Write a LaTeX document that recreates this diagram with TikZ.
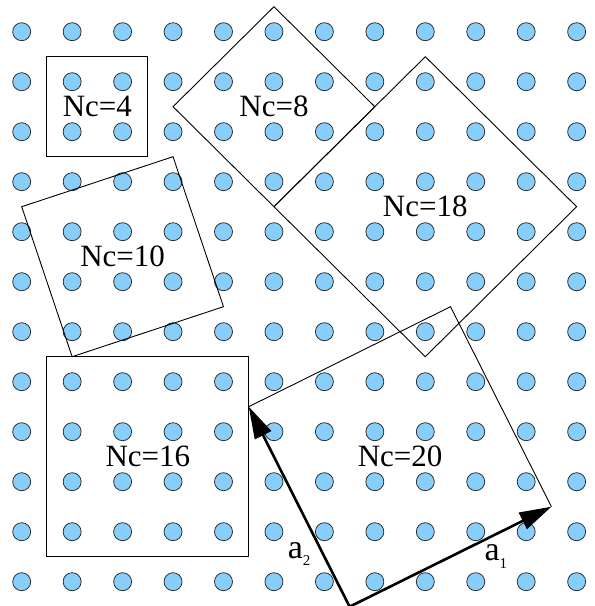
\documentclass[tikz,border=0pt]{standalone}
\usepackage{fontspec}
\setmainfont{Liberation Serif}
\usetikzlibrary{arrows.meta}
\definecolor{sitefill}{RGB}{135,206,250}
\newcommand{\subidx}[1]{\raisebox{-0.22em}{\fontsize{15}{15}\selectfont #1}}

\begin{document}
\begin{tikzpicture}[x=50.45pt, y=-50pt,
  every node/.style={font=\fontsize{31}{31}\selectfont},
  site/.style={circle,draw=black!85,fill=sitefill,line width=0.75pt,minimum size=18pt,inner sep=0pt},
  cell/.style={draw,line width=0.9pt},
  vlabel/.style={font=\fontsize{34}{34}\selectfont},
  basis/.style={line width=2.6pt,-{Triangle[length=32pt,width=18pt]}}]
  \useasboundingbox (-0.430,-0.634) rectangle (11.364,11.486);
  % lattice sites
  \foreach \i in {0,...,11}
    \foreach \j in {0,...,11}
      \node[site] (s-\i-\j) at (\i,\j) {};
  % cells
  \draw[cell] (0.5,0.5) rectangle (2.5,2.5);
  \draw[cell] (5,-0.5) -- (7,1.5) -- (5,3.5) -- (3,1.5) -- cycle;
  \draw[cell] (8,0.5) -- (11,3.5) -- (8,6.5) -- (5,3.5) -- cycle;
  \draw[cell] (0,3.5) -- (3,2.5) -- (4,5.5) -- (1,6.5) -- cycle;
  \draw[cell] (0.5,6.5) rectangle (4.5,10.5);
  \node (nc4) at (1.5,1.5) {Nc=4};
  \node (nc8) at (5,1.5) {Nc=8};
  \node (nc18) at (8,3.5) {Nc=18};
  \node (nc10) at (2,4.5) {Nc=10};
  \node (nc16) at (2.5,8.5) {Nc=16};
  % basis vectors
  \coordinate (o) at (6.5,11.5);
  \coordinate (a1) at (10.5,9.5);
  \coordinate (a2) at (4.5,7.5);
  \coordinate (c) at (8.5,5.5);
  \draw[cell] (a1) -- (c) -- (a2);
  \draw[basis] (o) -- (a1);
  \draw[basis] (o) -- (a2);
  \node (nc20) at (7.5,8.5) {Nc=20};
  \node[vlabel] (la1) at (9.4,10.5) {a\subidx{1}};
  \node[vlabel] (la2) at (5.5,10.45) {a\subidx{2}};
\end{tikzpicture}
\end{document}
